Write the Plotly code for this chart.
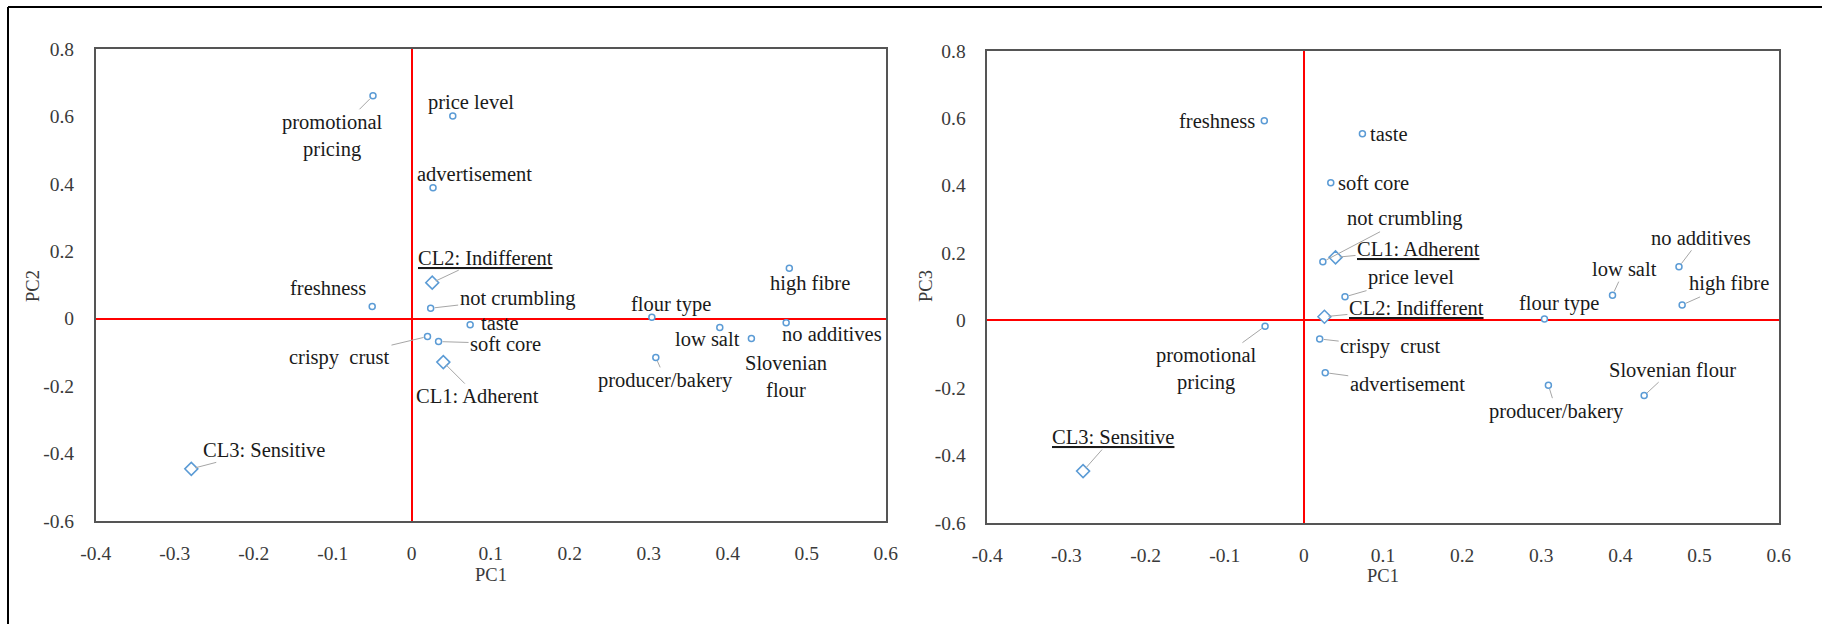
import plotly.graph_objects as go

# ---------------- data ----------------
attributes = ["freshness", "taste", "crispy  crust", "soft core", "not crumbling",
              "flour type", "high fibre", "low salt", "no additives", "Slovenian flour",
              "producer/bakery", "price level", "promotional pricing", "advertisement"]
attr_pc1 = [-0.050, 0.074, 0.020, 0.034, 0.024, 0.304, 0.478, 0.390, 0.474, 0.430,
            0.309, 0.052, -0.049, 0.027]
attr_pc2 = [0.036, -0.018, -0.053, -0.068, 0.031, 0.004, 0.150, -0.026, -0.012, -0.059,
            -0.115, 0.602, 0.662, 0.389]
attr_pc3 = [0.592, 0.554, -0.055, 0.408, 0.174, 0.004, 0.046, 0.075, 0.159, -0.223,
            -0.192, 0.070, -0.017, -0.155]

clusters = ["CL1: Adherent", "CL2: Indifferent", "CL3: Sensitive"]
cl_pc1 = [0.040, 0.026, -0.279]
cl_pc2 = [-0.129, 0.107, -0.446]
cl_pc3 = [0.187, 0.011, -0.447]

x_tickvals = [-0.4, -0.3, -0.2, -0.1, 0, 0.1, 0.2, 0.3, 0.4, 0.5, 0.6]
x_ticktext = ["-0.4", "-0.3", "-0.2", "-0.1", "0", "0.1", "0.2", "0.3", "0.4", "0.5", "0.6"]
y_tickvals = [-0.6, -0.4, -0.2, 0, 0.2, 0.4, 0.6, 0.8]
y_ticktext = ["-0.6", "-0.4", "-0.2", "0", "0.2", "0.4", "0.6", "0.8"]

# ---------------- label placement (pixel offsets from point: dx, dy-down, leader) ----------------
left_attr_labels = {
    "freshness": ("freshness", -44, -19, False),
    "taste": ("taste", 30, -2, False),
    "crispy  crust": ("crispy  crust", -88, 21, True),
    "soft core": ("soft core", 67, 2, True),
    "not crumbling": ("not crumbling", 87, -10, True),
    "flour type": ("flour type", 19, -13, False),
    "high fibre": ("high fibre", 21, 15, False),
    "low salt": ("low salt", -12, 12, False),
    "no additives": ("no additives", 46, 11, False),
    "Slovenian flour": ("Slovenian<br>flour", 35, 38, False),
    "producer/bakery": ("producer/bakery", 10, 23, True),
    "price level": ("price level", 18, -13, False),
    "promotional pricing": ("promotional<br>pricing", -40, 40, True),
    "advertisement": ("advertisement", 41, -14, False),
}
left_cl_labels = {
    "CL1: Adherent": ("CL1: Adherent", 34, 34, True),
    "CL2: Indifferent": ("<u>CL2: Indifferent</u>", 53, -25, True),
    "CL3: Sensitive": ("CL3: Sensitive", 73, -19, True),
}
right_attr_labels = {
    "freshness": ("freshness", -47, 0, False),
    "taste": ("taste", 27, 0, False),
    "crispy  crust": ("crispy  crust", 71, 8, True),
    "soft core": ("soft core", 43, 0, False),
    "not crumbling": ("not crumbling", 82, -43, True),
    "flour type": ("flour type", 15, -16, False),
    "high fibre": ("high fibre", 47, -21, True),
    "low salt": ("low salt", 12, -26, True),
    "no additives": ("no additives", 22, -29, True),
    "Slovenian flour": ("Slovenian flour", 28, -26, True),
    "producer/bakery": ("producer/bakery", 8, 26, True),
    "price level": ("price level", 66, -19, True),
    "promotional pricing": ("promotional<br>pricing", -59, 43, True),
    "advertisement": ("advertisement", 82, 11, True),
}
right_cl_labels = {
    "CL1: Adherent": ("<u>CL1: Adherent</u>", 83, -8, True),
    "CL2: Indifferent": ("<u>CL2: Indifferent</u>", 92, -9, True),
    "CL3: Sensitive": ("<u>CL3: Sensitive</u>", 30, -34, True),
}

# ---------------- styles ----------------
W, H = 1822, 624
BLUE = "#5B9BD5"
LEADER = "#A6A6A6"
TXT = "#1a1a1a"
TICK = "#3a3a3a"
FONT = "Liberation Serif, Times New Roman, serif"

fig = go.Figure()

def add_points(xs, ys, names, xa, ya, symbol, size):
    fig.add_trace(go.Scatter(
        x=xs, y=ys, mode="markers", text=names, hoverinfo="text",
        marker=dict(symbol=symbol, size=size, color="white",
                    line=dict(color=BLUE, width=1.5)),
        xaxis=xa, yaxis=ya, showlegend=False, cliponaxis=False))

add_points(attr_pc1, attr_pc2, attributes, "x", "y", "circle", 6)
add_points(cl_pc1, cl_pc2, clusters, "x", "y", "diamond", 10)
add_points(attr_pc1, attr_pc3, attributes, "x2", "y2", "circle", 6)
add_points(cl_pc1, cl_pc3, clusters, "x2", "y2", "diamond", 10)

annotations = []

def add_labels(xs, ys, names, table, xref, yref):
    for xv, yv, nm in zip(xs, ys, names):
        text, dx, dy, leader = table[nm]
        a = dict(x=xv, y=yv, xref=xref, yref=yref, text=text,
                 font=dict(family=FONT, size=20.5, color=TXT))
        if leader:
            a.update(showarrow=True, ax=dx, ay=dy, arrowhead=0, arrowwidth=1,
                     arrowcolor=LEADER, standoff=4)
        else:
            a.update(showarrow=False, xshift=dx, yshift=-dy)
        annotations.append(a)

add_labels(attr_pc1, attr_pc2, attributes, left_attr_labels, "x", "y")
add_labels(cl_pc1, cl_pc2, clusters, left_cl_labels, "x", "y")
add_labels(attr_pc1, attr_pc3, attributes, right_attr_labels, "x2", "y2")
add_labels(cl_pc1, cl_pc3, clusters, right_cl_labels, "x2", "y2")

# axis titles
def px_x(v):
    return v / W

def px_y(v):
    return 1 - v / H

for txt, xp, yp, ang in [("PC2", 33, 286, -90), ("PC3", 926, 286, -90),
                         ("PC1", 490.7, 575, 0), ("PC1", 1383, 575.7, 0)]:
    annotations.append(dict(text=txt, x=px_x(xp), y=px_y(yp), xref="paper", yref="paper",
                            showarrow=False, textangle=ang, xanchor="center", yanchor="middle",
                            font=dict(family=FONT, size=18.5, color=TICK)))

axis_common = dict(showgrid=False, zeroline=True, zerolinecolor="#FF0000", zerolinewidth=1.5,
                   showline=True, mirror=True, linecolor="#555555", linewidth=1.5,
                   ticks="", automargin=False,
                   tickfont=dict(family=FONT, size=19.5, color=TICK), fixedrange=True)

xa = dict(axis_common, range=[-0.4, 0.6], tickmode="array", tickvals=x_tickvals,
          ticktext=x_ticktext, ticklabelstandoff=14)
ya = dict(axis_common, range=[-0.6, 0.8], tickmode="array", tickvals=y_tickvals,
          ticktext=y_ticktext, ticklabelstandoff=16)

fig.update_layout(
    width=W, height=H, margin=dict(l=0, r=0, t=0, b=0, pad=0, autoexpand=False),
    paper_bgcolor="white", plot_bgcolor="white",
    xaxis=dict(xa, domain=[px_x(95.7), px_x(885.7)], anchor="y"),
    yaxis=dict(ya, domain=[px_y(520.7), px_y(49.3)], anchor="x"),
    xaxis2=dict(xa, domain=[px_x(987.3), px_x(1778.7)], anchor="y2"),
    yaxis2=dict(ya, domain=[px_y(522.7), px_y(50.7)], anchor="x2"),
    annotations=annotations,
    shapes=[
        dict(type="line", xref="paper", yref="paper", x0=px_x(8), x1=1, y0=px_y(7), y1=px_y(7),
             line=dict(color="black", width=2)),
        dict(type="line", xref="paper", yref="paper", x0=px_x(8), x1=px_x(8), y0=px_y(7), y1=0,
             line=dict(color="black", width=2)),
    ],
    showlegend=False,
)

fig.write_html("out.html", config={"displayModeBar": False},
               post_script="document.body.style.margin='0';document.body.style.overflow='hidden';")
